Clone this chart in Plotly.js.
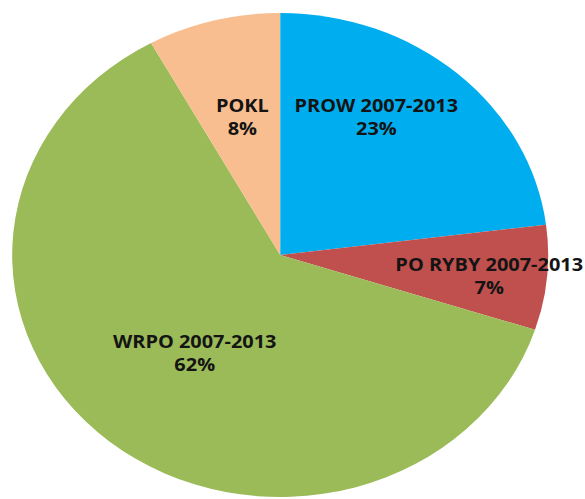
<!DOCTYPE html>
<html>
<head>
<meta charset="utf-8">
<script src="https://cdn.plot.ly/plotly-3.0.1.min.js"></script>
<style>
  html, body { margin: 0; padding: 0; background: #fff; overflow: hidden; width: 585px; height: 499px; }
  #chart { width: 529px; height: 499px; transform: scaleX(1.1074); transform-origin: 0 0; }
</style>
</head>
<body>
<div id="chart"></div>
<script>
// Data
const categories = ["PROW 2007-2013", "PO RYBY 2007-2013", "WRPO 2007-2013", "POKL"];
const shares = [23, 7, 62, 8];
const sliceColors = ["#00AEEF", "#C0504D", "#9BBB59", "#F9BE8F"];

// Label placement (reference pixel coordinates, after horizontal stretch)
const labelPos = [[376, 116], [489, 275], [195, 352], [242, 116]];

const SX = 1.1074, L = 11, T = 13, D = 484;
const total = shares.reduce((a, b) => a + b, 0);
const annotations = categories.map((c, i) => ({
  text: c + "<br>" + Math.round(shares[i] / total * 100) + "%",
  xref: "paper", yref: "paper",
  x: (labelPos[i][0] / SX - L) / D,
  y: 1 - (labelPos[i][1] - T) / D,
  xanchor: "center", yanchor: "middle",
  showarrow: false,
  font: { family: "Open Sans", size: 18, color: "#141414", weight: "bold" },
  align: "center"
}));

Plotly.newPlot("chart", [{
  type: "pie",
  labels: categories,
  values: shares,
  sort: false,
  direction: "clockwise",
  rotation: 0,
  marker: { colors: sliceColors, line: { width: 0 } },
  textinfo: "none",
  hoverinfo: "label+percent"
}], {
  width: 529, height: 499,
  margin: { l: L, r: 529 - L - D, t: T, b: 499 - T - D },
  showlegend: false,
  paper_bgcolor: "#fff",
  annotations: annotations
}, { displayModeBar: false, staticPlot: true });
</script>
</body>
</html>
